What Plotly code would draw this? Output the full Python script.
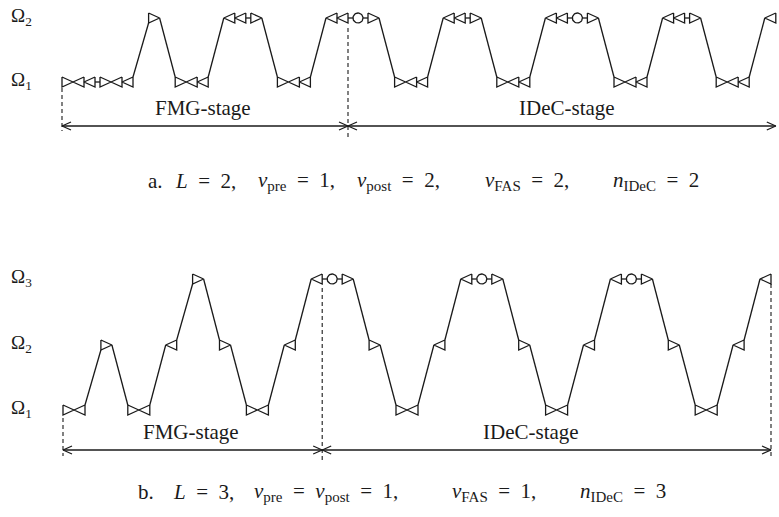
import math
import plotly.graph_objects as go

# ---------------- data ----------------
# panel a: grid level visited at each step and the glyph sequence drawn there
levels_a = [1, 2, 1, 2, 1, 2, 1, 2, 1, 2, 1, 2, 1, 2]
glyphs_a = ["><<-><<", ">", "><<", "<<->", "><<", "<<-o->", "><<", "<<->",
            "><<", "<<-o->", "><<", "<<->", "><<", "<"]
level_names_a = ["Ω<sub>1</sub>", "Ω<sub>2</sub>"]

# panel b
levels_b = [1, 2, 1, 2, 3, 2, 1, 2, 3, 2, 1, 2, 3, 2, 1, 2, 3, 2, 1, 2, 3]
glyphs_b = ["><", ">", "><", "<", ">", ">", "><", "<", "<-o->", ">", "><", "<",
            "<-o->", ">", "><", "<", "<-o->", ">", "><", "<", "<"]
level_names_b = ["Ω<sub>1</sub>", "Ω<sub>2</sub>", "Ω<sub>3</sub>"]

stage_names = ["FMG-stage", "IDeC-stage"]

EQ = "\u2002=\u2002"
SUB = "<sub><span style='font-size:15px'>{}</span></sub>"
caption_a = ["a.", "<i>L</i>" + EQ + "2,",
             "<i>ν</i>" + SUB.format("pre") + EQ + "1,",
             "<i>ν</i>" + SUB.format("post") + EQ + "2,",
             "<i>ν</i>" + SUB.format("FAS") + EQ + "2,",
             "<i>n</i>" + SUB.format("IDeC") + EQ + "2"]
caption_b = ["b.", "<i>L</i>" + EQ + "3,",
             "<i>ν</i>" + SUB.format("pre") + EQ + "<i>ν</i>" + SUB.format("post") + EQ + "1,",
             "<i>ν</i>" + SUB.format("FAS") + EQ + "1,",
             "<i>n</i>" + SUB.format("IDeC") + EQ + "3"]

# ---------------- style / layout constants ----------------
TW, TH = 11.0, 10.0     # triangle width / height
CW = 5.0                # connector length
DW = 10.0               # circle diameter
INK = "#1a1a1a"
SERIF = "Liberation Serif"

panels = [
    dict(levels=levels_a, glyphs=glyphs_a, names=level_names_a,
         x0=62, gap=15.6, ly={1: 82, 2: 18}, arrow_y=126, text_y=108,
         stage_x=[203, 567], start_dash=(88, 131), bound_dash=(28, 137),
         end_dash=None, cap=caption_a,
         cap_x=[146, 173, 256, 355, 483, 611], cap_y=181),
    dict(levels=levels_b, glyphs=glyphs_b, names=level_names_b,
         x0=63, gap=15.9, ly={1: 410, 2: 345, 3: 279}, arrow_y=450, text_y=432,
         stage_x=[191, 531], start_dash=(418, 456), bound_dash=(288, 461),
         end_dash=(284, 456), cap=caption_b,
         cap_x=[136, 171, 252, 450, 578], cap_y=492),
]


def layout_groups(glyphs, levels, x0, gap):
    groups = []
    x = x0
    for g, lv in zip(glyphs, levels):
        items = []
        for ch in g:
            w = TW if ch in "<>" else (DW if ch == "o" else CW)
            items.append((ch, x, w))
            x += w
        groups.append((lv, items))
        x += gap
    return groups


def attach(item, side, y, other_y):
    ch, x, w = item
    dy = -TH / 2 if other_y < y else TH / 2
    if side == "right":
        return (x + w, y) if ch == ">" else (x + w, y + dy)
    return (x, y) if ch == "<" else (x, y + dy)


fig = go.Figure()
sx, sy = [], []     # solid lines
dx, dy_ = [], []    # dashed lines
ann = []


def seg(xs, ys, X, Y):
    X.extend(xs + [None])
    Y.extend(ys + [None])


for p in panels:
    groups = layout_groups(p["glyphs"], p["levels"], p["x0"], p["gap"])
    ly = p["ly"]
    for lv, items in groups:
        y = ly[lv]
        for ch, x, w in items:
            if ch == ">":
                seg([x, x + w, x, x], [y - TH / 2, y, y + TH / 2, y - TH / 2], sx, sy)
            elif ch == "<":
                seg([x + w, x, x + w, x + w], [y - TH / 2, y, y + TH / 2, y - TH / 2], sx, sy)
            elif ch == "-":
                seg([x, x + w], [y, y], sx, sy)
            elif ch == "o":
                cx, r = x + w / 2, w / 2
                n = 36
                seg([cx + r * math.cos(2 * math.pi * k / n) for k in range(n + 1)],
                    [y + r * math.sin(2 * math.pi * k / n) for k in range(n + 1)], sx, sy)
    for (l1, it1), (l2, it2) in zip(groups[:-1], groups[1:]):
        y1, y2 = ly[l1], ly[l2]
        a = attach(it1[-1], "right", y1, y2)
        b = attach(it2[0], "left", y2, y1)
        seg([a[0], b[0]], [a[1], b[1]], sx, sy)

    # stage boundaries
    x_start = groups[0][1][0][1]
    x_bound = None
    for lv, items in groups:
        for k, (ch, x, w) in enumerate(items):
            if ch == "o" and x_bound is None:
                x_bound = items[k - 1][1]
    last = groups[-1][1][-1]
    x_end = last[1] + last[2]

    seg([x_start, x_start], list(p["start_dash"]), dx, dy_)
    seg([x_bound, x_bound], list(p["bound_dash"]), dx, dy_)
    if p["end_dash"]:
        seg([x_end, x_end], list(p["end_dash"]), dx, dy_)

    ay = p["arrow_y"]
    AL, AH = 9, 4
    seg([x_start, x_end], [ay, ay], sx, sy)
    seg([x_start + AL, x_start, x_start + AL], [ay - AH, ay, ay + AH], sx, sy)
    seg([x_bound - AL, x_bound, x_bound - AL], [ay - AH, ay, ay + AH], sx, sy)
    seg([x_bound + AL, x_bound, x_bound + AL], [ay - AH, ay, ay + AH], sx, sy)
    seg([x_end - AL, x_end, x_end - AL], [ay - AH, ay, ay + AH], sx, sy)

    for name, xs in zip(stage_names, p["stage_x"]):
        ann.append(dict(x=xs, y=p["text_y"], text=name, showarrow=False,
                        xanchor="center", yanchor="middle",
                        font=dict(family=SERIF, size=21, color=INK)))
    for i, name in enumerate(p["names"]):
        ann.append(dict(x=9, y=ly[i + 1] - 1, text=name, showarrow=False,
                        xanchor="left", yanchor="middle",
                        font=dict(family=SERIF, size=19, color=INK)))
    for t, xc in zip(p["cap"], p["cap_x"]):
        ann.append(dict(x=xc, y=p["cap_y"], text=t, showarrow=False,
                        xanchor="left", yanchor="middle",
                        font=dict(family=SERIF, size=21, color=INK)))

fig.add_trace(go.Scatter(x=sx, y=sy, mode="lines", hoverinfo="skip",
                         line=dict(color=INK, width=1.3), showlegend=False))
fig.add_trace(go.Scatter(x=dx, y=dy_, mode="lines", hoverinfo="skip",
                         line=dict(color=INK, width=1.1, dash="4px,3px"),
                         showlegend=False))

fig.update_layout(
    width=779, height=517,
    margin=dict(l=0, r=0, t=0, b=0),
    paper_bgcolor="white", plot_bgcolor="white",
    xaxis=dict(range=[0, 779], visible=False, fixedrange=True),
    yaxis=dict(range=[517, 0], visible=False, fixedrange=True),
    annotations=ann,
)
fig.write_html("out.html", config={"displayModeBar": False},
               post_script="document.body.style.margin='0px';")
